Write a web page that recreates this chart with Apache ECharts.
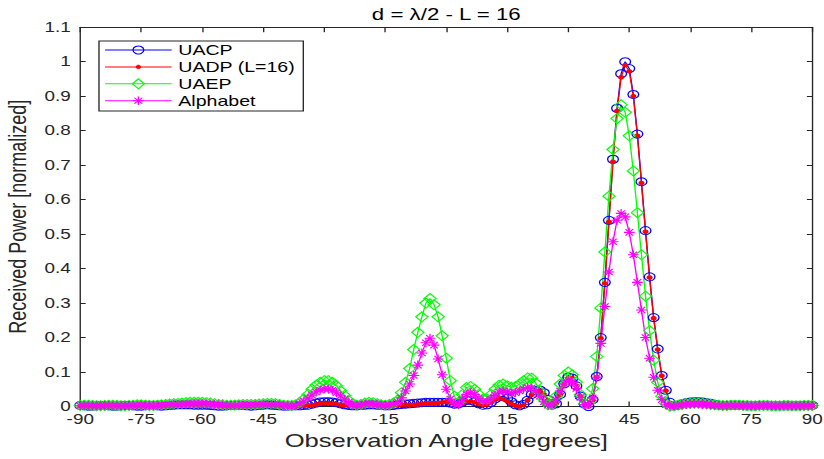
<!DOCTYPE html>
<html>
<head>
<meta charset="utf-8">
<title>Received power vs observation angle</title>
<script src="https://cdn.jsdelivr.net/npm/echarts@6/dist/echarts.min.js"></script>
<style>
  html, body { margin: 0; padding: 0; background: #fff; }
  #frame { width: 824px; height: 459px; overflow: hidden; position: relative; }
  /* the figure is laid out at its native aspect and widened to fill the frame */
  #chart { width: 611px; height: 459px; transform: scaleX(1.3486); transform-origin: 0 0; }
</style>
</head>
<body>
<div id="frame"><div id="chart"></div></div>
<script>
// Observation angles in degrees
const angles = [
  -90, -89, -88, -87, -86, -85, -84, -83, -82, -81,
  -80, -79, -78, -77, -76, -75, -74, -73, -72, -71,
  -70, -69, -68, -67, -66, -65, -64, -63, -62, -61,
  -60, -59, -58, -57, -56, -55, -54, -53, -52, -51,
  -50, -49, -48, -47, -46, -45, -44, -43, -42, -41,
  -40, -39, -38, -37, -36, -35, -34, -33, -32, -31,
  -30, -29, -28, -27, -26, -25, -24, -23, -22, -21,
  -20, -19, -18, -17, -16, -15, -14, -13, -12, -11,
  -10, -9, -8, -7, -6, -5, -4, -3, -2, -1,
  0, 1, 2, 3, 4, 5, 6, 7, 8, 9,
  10, 11, 12, 13, 14, 15, 16, 17, 18, 19,
  20, 21, 22, 23, 24, 25, 26, 27, 28, 29,
  30, 31, 32, 33, 34, 35, 36, 37, 38, 39,
  40, 41, 42, 43, 44, 45, 46, 47, 48, 49,
  50, 51, 52, 53, 54, 55, 56, 57, 58, 59,
  60, 61, 62, 63, 64, 65, 66, 67, 68, 69,
  70, 71, 72, 73, 74, 75, 76, 77, 78, 79,
  80, 81, 82, 83, 84, 85, 86, 87, 88, 89, 90
];

// Normalized received power per angle
const uacp = [
  0.003, 0.002, 0.001, 0.001, 0.002, 0.003, 0.003, 0.002, 0.001, 0.001,
  0.002, 0.003, 0.003, 0.002, 0.001, 0.001, 0.002, 0.003, 0.003, 0.002,
  0.001, 0.002, 0.003, 0.004, 0.005, 0.005, 0.005, 0.005, 0.004, 0.004,
  0.004, 0.004, 0.003, 0.002, 0.001, 0.001, 0.002, 0.003, 0.004, 0.004,
  0.003, 0.002, 0.001, 0.002, 0.003, 0.004, 0.005, 0.004, 0.003, 0.002,
  0.001, 0.001, 0.002, 0.002, 0.002, 0.003, 0.004, 0.007, 0.010, 0.013,
  0.014, 0.014, 0.013, 0.011, 0.008, 0.005, 0.003, 0.002, 0.002, 0.003,
  0.004, 0.005, 0.005, 0.004, 0.003, 0.002, 0.002, 0.003, 0.005, 0.006,
  0.007, 0.008, 0.009, 0.010, 0.011, 0.012, 0.012, 0.012, 0.012, 0.012,
  0.012, 0.010, 0.007, 0.008, 0.013, 0.018, 0.018, 0.014, 0.008, 0.004,
  0.005, 0.012, 0.022, 0.028, 0.030, 0.024, 0.014, 0.005, 0.002, 0.006,
  0.018, 0.035, 0.046, 0.048, 0.040, 0.020, 0.004, 0.008, 0.035, 0.066,
  0.085, 0.082, 0.060, 0.030, 0.007, 0.000, 0.020, 0.087, 0.200, 0.360,
  0.540, 0.717, 0.865, 0.965, 1.000, 0.980, 0.905, 0.790, 0.652, 0.510,
  0.376, 0.258, 0.167, 0.090, 0.047, 0.012, 0.002, 0.004, 0.008, 0.011,
  0.013, 0.014, 0.014, 0.013, 0.011, 0.009, 0.006, 0.004, 0.003, 0.003,
  0.004, 0.004, 0.004, 0.003, 0.002, 0.002, 0.002, 0.003, 0.003, 0.003,
  0.002, 0.002, 0.002, 0.002, 0.002, 0.002, 0.002, 0.003, 0.003, 0.003, 0.003
];

const uadp = [
  0.002, 0.001, 0.001, 0.001, 0.001, 0.002, 0.002, 0.001, 0.001, 0.001,
  0.001, 0.002, 0.002, 0.001, 0.001, 0.001, 0.001, 0.002, 0.002, 0.001,
  0.001, 0.001, 0.002, 0.002, 0.003, 0.003, 0.003, 0.003, 0.003, 0.002,
  0.002, 0.002, 0.002, 0.001, 0.001, 0.001, 0.001, 0.002, 0.002, 0.002,
  0.002, 0.001, 0.001, 0.001, 0.002, 0.002, 0.003, 0.002, 0.002, 0.001,
  0.001, 0.001, 0.001, 0.001, 0.001, 0.002, 0.003, 0.004, 0.006, 0.008,
  0.009, 0.009, 0.008, 0.007, 0.005, 0.003, 0.002, 0.001, 0.001, 0.002,
  0.003, 0.003, 0.003, 0.002, 0.002, 0.001, 0.001, 0.002, 0.004, 0.005,
  0.006, 0.005, 0.005, 0.006, 0.007, 0.008, 0.008, 0.009, 0.010, 0.012,
  0.013, 0.012, 0.008, 0.006, 0.010, 0.014, 0.015, 0.012, 0.007, 0.004,
  0.006, 0.012, 0.020, 0.024, 0.022, 0.015, 0.007, 0.002, 0.000, 0.004,
  0.018, 0.034, 0.044, 0.046, 0.036, 0.018, 0.004, 0.008, 0.034, 0.064,
  0.083, 0.082, 0.060, 0.030, 0.007, 0.000, 0.018, 0.085, 0.198, 0.357,
  0.535, 0.710, 0.857, 0.955, 0.990, 0.972, 0.900, 0.785, 0.648, 0.507,
  0.374, 0.256, 0.165, 0.089, 0.046, 0.011, 0.002, 0.004, 0.007, 0.010,
  0.012, 0.013, 0.013, 0.012, 0.010, 0.008, 0.006, 0.004, 0.003, 0.002,
  0.003, 0.003, 0.003, 0.002, 0.002, 0.001, 0.001, 0.002, 0.002, 0.002,
  0.002, 0.001, 0.001, 0.001, 0.002, 0.002, 0.002, 0.002, 0.002, 0.002, 0.002
];

const uaep = [
  0.003, 0.004, 0.004, 0.003, 0.002, 0.002, 0.003, 0.004, 0.004, 0.003,
  0.002, 0.002, 0.003, 0.004, 0.005, 0.005, 0.004, 0.003, 0.003, 0.004,
  0.005, 0.006, 0.007, 0.008, 0.009, 0.010, 0.011, 0.012, 0.012, 0.012,
  0.012, 0.011, 0.010, 0.008, 0.006, 0.005, 0.004, 0.004, 0.004, 0.005,
  0.006, 0.006, 0.006, 0.006, 0.007, 0.008, 0.009, 0.009, 0.008, 0.006,
  0.004, 0.003, 0.003, 0.005, 0.012, 0.022, 0.035, 0.050, 0.062, 0.070,
  0.075, 0.075, 0.070, 0.060, 0.046, 0.032, 0.018, 0.008, 0.004, 0.006,
  0.010, 0.012, 0.011, 0.008, 0.005, 0.004, 0.006, 0.010, 0.018, 0.040,
  0.070, 0.110, 0.165, 0.215, 0.260, 0.300, 0.313, 0.295, 0.260, 0.205,
  0.140, 0.075, 0.030, 0.012, 0.035, 0.055, 0.058, 0.050, 0.035, 0.022,
  0.022, 0.035, 0.050, 0.062, 0.065, 0.060, 0.056, 0.058, 0.065, 0.075,
  0.083, 0.082, 0.068, 0.045, 0.020, 0.005, 0.005, 0.030, 0.065, 0.090,
  0.100, 0.092, 0.070, 0.035, 0.008, 0.010, 0.052, 0.145, 0.286, 0.448,
  0.610, 0.745, 0.835, 0.875, 0.853, 0.785, 0.683, 0.562, 0.440, 0.320,
  0.220, 0.134, 0.070, 0.030, 0.008, 0.001, 0.002, 0.004, 0.006, 0.008,
  0.009, 0.010, 0.010, 0.009, 0.008, 0.006, 0.005, 0.004, 0.003, 0.003,
  0.004, 0.004, 0.004, 0.003, 0.003, 0.002, 0.002, 0.003, 0.003, 0.003,
  0.002, 0.002, 0.002, 0.003, 0.003, 0.002, 0.002, 0.002, 0.003, 0.003, 0.003
];

const alphabet = [
  0.002, 0.003, 0.003, 0.002, 0.002, 0.002, 0.002, 0.003, 0.003, 0.002,
  0.002, 0.002, 0.002, 0.003, 0.003, 0.004, 0.003, 0.003, 0.002, 0.003,
  0.004, 0.004, 0.005, 0.006, 0.006, 0.007, 0.008, 0.008, 0.009, 0.009,
  0.009, 0.008, 0.007, 0.006, 0.005, 0.004, 0.003, 0.003, 0.003, 0.003,
  0.004, 0.004, 0.004, 0.005, 0.005, 0.006, 0.006, 0.006, 0.006, 0.005,
  0.003, 0.002, 0.002, 0.003, 0.008, 0.015, 0.024, 0.033, 0.042, 0.048,
  0.051, 0.051, 0.047, 0.040, 0.031, 0.021, 0.012, 0.005, 0.003, 0.004,
  0.007, 0.009, 0.008, 0.006, 0.004, 0.003, 0.004, 0.006, 0.012, 0.025,
  0.045, 0.065, 0.090, 0.120, 0.155, 0.185, 0.198, 0.178, 0.138, 0.092,
  0.050, 0.022, 0.008, 0.006, 0.020, 0.035, 0.040, 0.035, 0.024, 0.015,
  0.015, 0.022, 0.033, 0.042, 0.045, 0.042, 0.038, 0.040, 0.045, 0.051,
  0.055, 0.054, 0.045, 0.030, 0.014, 0.004, 0.004, 0.020, 0.045, 0.065,
  0.075, 0.070, 0.052, 0.026, 0.006, 0.006, 0.025, 0.085, 0.183, 0.290,
  0.390, 0.478, 0.540, 0.560, 0.550, 0.505, 0.440, 0.360, 0.280, 0.200,
  0.140, 0.085, 0.047, 0.020, 0.005, 0.001, 0.002, 0.003, 0.005, 0.006,
  0.007, 0.007, 0.007, 0.006, 0.005, 0.004, 0.003, 0.003, 0.002, 0.002,
  0.003, 0.003, 0.003, 0.002, 0.002, 0.002, 0.002, 0.002, 0.003, 0.003,
  0.002, 0.002, 0.002, 0.002, 0.002, 0.002, 0.002, 0.002, 0.002, 0.002, 0.002
];

const seriesNames = ['UACP', 'UADP (L=16)', 'UAEP', 'Alphabet'];
const seriesValues = [uacp, uadp, uaep, alphabet];

// Axis ticks
const xTickMin = -90, xTickMax = 90, xTickStep = 15;
const yTickMin = 0, yTickMax = 1.1, yTickStep = 0.1;

const titleText = 'd = \u03bb/2 - L = 16';
const xAxisTitle = 'Observation Angle [degrees]';
const yAxisTitle = 'Received Power [normalized]';

// ---- styling ----
const FONT = '"Liberation Sans", Arial, Helvetica, sans-serif';
const AXIS_COLOR = '#262626';
const BLUE = '#0000ff', RED = '#ff0000', GREEN = '#00ff00', MAGENTA = '#ff00ff';
const ASTERISK = 'path://M0 5L10 5M5 0L5 10M1.5 1.5L8.5 8.5M8.5 1.5L1.5 8.5';

const seriesLook = [
  { color: BLUE,    symbol: 'circle',  size: 8,       fill: 'rgba(0,0,0,0)', border: BLUE },
  { color: RED,     symbol: 'circle',  size: 3.5,     fill: RED,             border: RED },
  { color: GREEN,   symbol: 'diamond', size: [9, 10], fill: 'rgba(0,0,0,0)', border: GREEN },
  { color: MAGENTA, symbol: ASTERISK,  size: [8, 9],  fill: MAGENTA,         border: MAGENTA }
];

const GRID = { left: 59.5, right: 8.7, top: 27.2, bottom: 52.5 };

const chart = echarts.init(document.getElementById('chart'), null, { renderer: 'svg' });

const series = seriesNames.map((name, i) => {
  const look = seriesLook[i];
  return {
    name: name,
    type: 'line',
    xAxisIndex: 0,
    yAxisIndex: 0,
    data: angles.map((a, k) => [a, seriesValues[i][k]]),
    symbol: look.symbol,
    symbolSize: look.size,
    showSymbol: true,
    showAllSymbol: true,
    clip: true,
    lineStyle: { color: look.color, width: 1 },
    itemStyle: { color: look.fill, borderColor: look.border, borderWidth: 1 },
    emphasis: { disabled: true },
    animation: false
  };
});

// Legend box drawn with graphic elements
const LEG = { x: 73.4, y: 41, w: 151.5, h: 70, row0: 50, rowStep: 16.9, lineX1: 77.9, lineX2: 127.3, textX: 132.2 };
const legendEls = [{
  type: 'rect', z: 100,
  shape: { x: LEG.x, y: LEG.y, width: LEG.w, height: LEG.h },
  style: { fill: '#ffffff', stroke: AXIS_COLOR, lineWidth: 1 }
}];
seriesNames.forEach((name, i) => {
  const cy = LEG.row0 + i * LEG.rowStep;
  const cx = (LEG.lineX1 + LEG.lineX2) / 2;
  const col = seriesLook[i].color;
  legendEls.push({ type: 'line', z: 101, shape: { x1: LEG.lineX1, y1: cy, x2: LEG.lineX2, y2: cy }, style: { stroke: col, lineWidth: 1 } });
  if (i === 0) {
    legendEls.push({ type: 'circle', z: 102, shape: { cx: cx, cy: cy, r: 4 }, style: { fill: 'none', stroke: col, lineWidth: 1 } });
  } else if (i === 1) {
    legendEls.push({ type: 'circle', z: 102, shape: { cx: cx, cy: cy, r: 1.8 }, style: { fill: col, stroke: col, lineWidth: 0.5 } });
  } else if (i === 2) {
    legendEls.push({ type: 'polygon', z: 102, shape: { points: [[cx, cy - 5], [cx + 4.5, cy], [cx, cy + 5], [cx - 4.5, cy]] }, style: { fill: 'none', stroke: col, lineWidth: 1 } });
  } else {
    const r = 4.2;
    [[-r, 0, r, 0], [0, -r, 0, r], [-r * 0.7, -r * 0.7, r * 0.7, r * 0.7], [r * 0.7, -r * 0.7, -r * 0.7, r * 0.7]].forEach(s => {
      legendEls.push({ type: 'line', z: 102, shape: { x1: cx + s[0], y1: cy + s[1], x2: cx + s[2], y2: cy + s[3] }, style: { stroke: col, lineWidth: 1 } });
    });
  }
  legendEls.push({
    type: 'text', z: 102, x: LEG.textX, y: cy,
    style: { text: name, fontSize: 14.5, fontFamily: FONT, fill: '#000000', align: 'left', verticalAlign: 'middle' }
  });
});

const plotCenterX = GRID.left + (611 - GRID.left - GRID.right) / 2;

const axisCommon = {
  axisLine: { show: true, onZero: false, lineStyle: { color: AXIS_COLOR, width: 1 } },
  splitLine: { show: false },
  minorTick: { show: false }
};

const option = {
  backgroundColor: '#ffffff',
  animation: false,
  grid: Object.assign({ containLabel: false, outerBoundsMode: 'none' }, GRID),
  xAxis: [
    Object.assign({}, axisCommon, {
      type: 'value', position: 'bottom', min: xTickMin, max: xTickMax, interval: xTickStep,
      axisTick: { show: true, inside: true, length: 5, lineStyle: { color: AXIS_COLOR } },
      axisLabel: { show: true, margin: 5.5, color: AXIS_COLOR, fontSize: 14, fontFamily: FONT, showMinLabel: true, showMaxLabel: true },
      name: xAxisTitle, nameLocation: 'middle', nameGap: 24.5,
      nameTextStyle: { fontSize: 19, fontFamily: FONT, color: AXIS_COLOR }
    }),
    Object.assign({}, axisCommon, {
      type: 'value', position: 'top', min: xTickMin, max: xTickMax, interval: xTickStep,
      axisTick: { show: true, inside: true, length: 5, lineStyle: { color: AXIS_COLOR } },
      axisLabel: { show: false }
    })
  ],
  yAxis: [
    Object.assign({}, axisCommon, {
      type: 'value', position: 'left', min: yTickMin, max: yTickMax, interval: yTickStep,
      axisTick: { show: true, inside: true, length: 4, lineStyle: { color: AXIS_COLOR } },
      axisLabel: { show: true, margin: 7, color: AXIS_COLOR, fontSize: 14, fontFamily: FONT, showMinLabel: true, showMaxLabel: true },
      name: yAxisTitle, nameLocation: 'middle', nameGap: 34, nameRotate: 90,
      nameTextStyle: { fontSize: 18, fontFamily: FONT, color: AXIS_COLOR }
    }),
    Object.assign({}, axisCommon, {
      type: 'value', position: 'right', min: yTickMin, max: yTickMax, interval: yTickStep,
      axisTick: { show: true, inside: true, length: 4, lineStyle: { color: AXIS_COLOR } },
      axisLabel: { show: false }
    })
  ],
  graphic: [{
    type: 'text', z: 100, x: plotCenterX, y: 14,
    style: { text: titleText, fontSize: 16.5, fontFamily: FONT, fill: '#000000', align: 'center', verticalAlign: 'middle' }
  }].concat(legendEls),
  series: series
};

chart.setOption(option);
</script>
</body>
</html>
